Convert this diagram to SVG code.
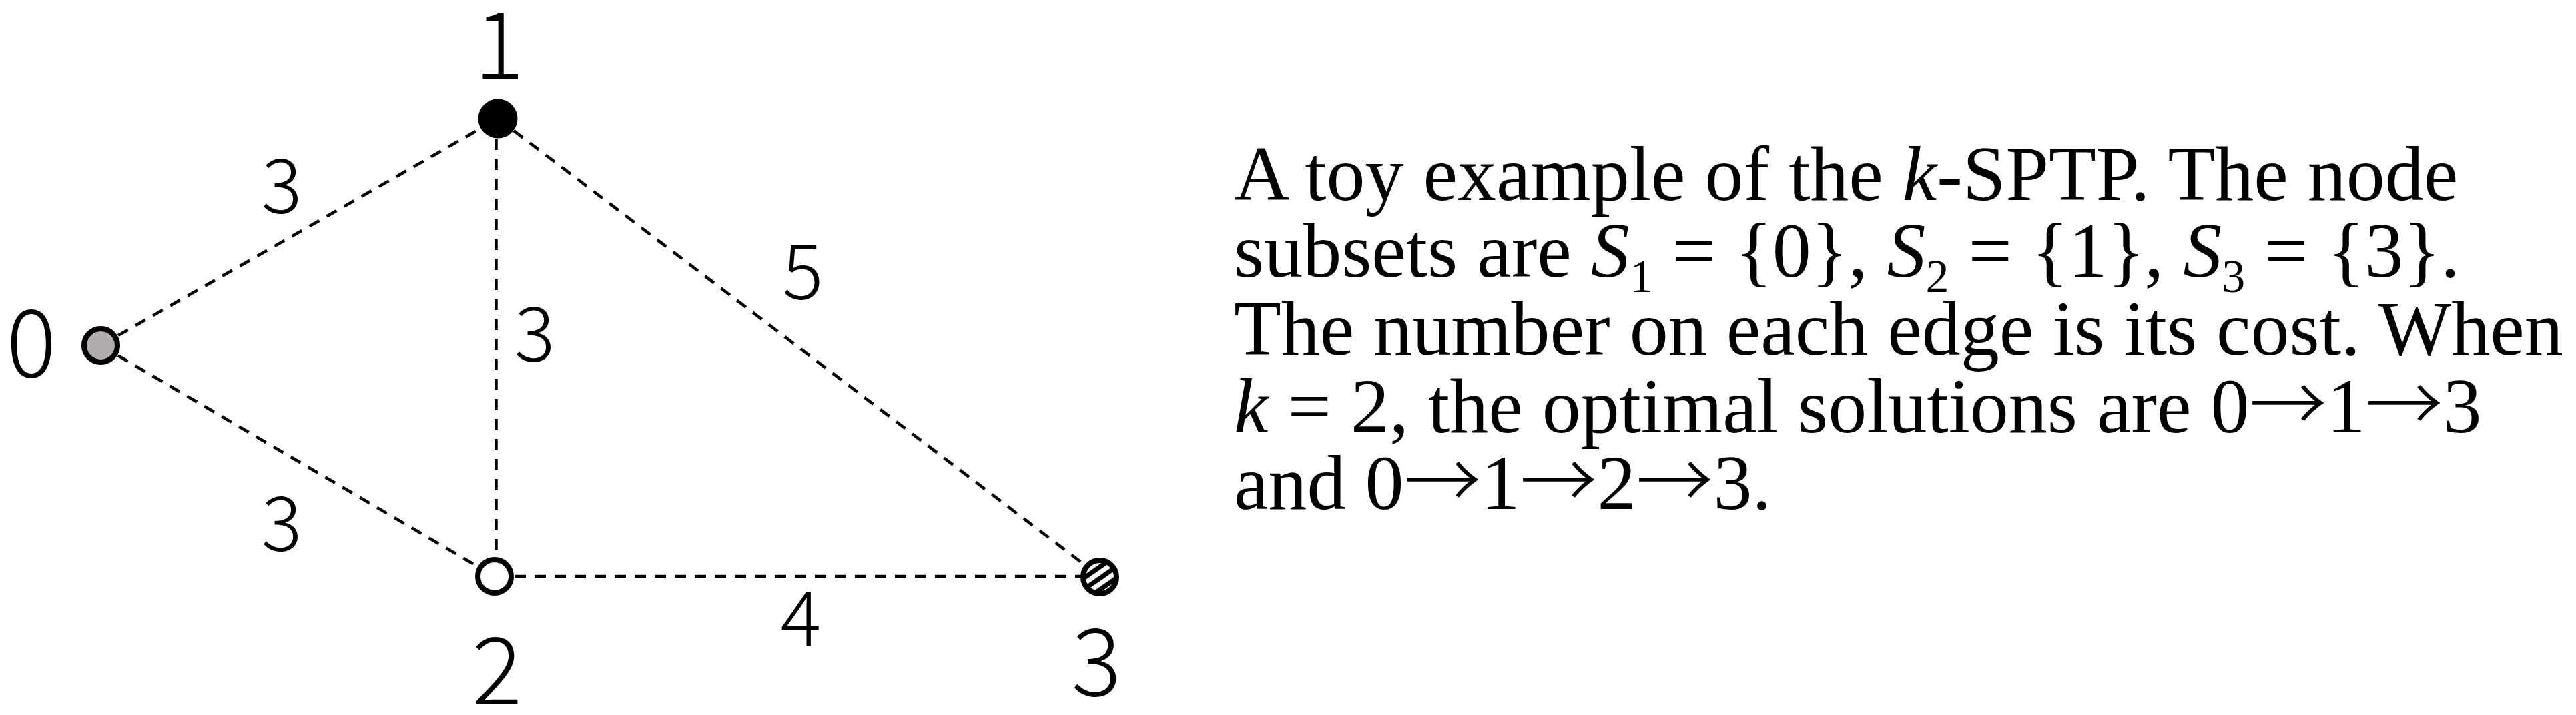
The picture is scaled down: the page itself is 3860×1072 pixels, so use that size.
<svg xmlns="http://www.w3.org/2000/svg" width="3860" height="1072" viewBox="0 0 3860 1072">
<defs>
<pattern id="stripes" patternUnits="userSpaceOnUse" width="14" height="14" patternTransform="rotate(-35)">
<rect x="0" y="0" width="14" height="14" fill="#ffffff"/>
<rect x="0" y="0" width="14" height="7" fill="#000000"/>
</pattern>
<style>
.edge{stroke:#000;stroke-width:4.5;stroke-dasharray:17 13;fill:none}
.node{stroke:#000;stroke-width:8}
.nlabel{font-family:"Noto Sans CJK SC","DejaVu Sans",sans-serif;font-weight:300;font-size:140px;fill:#000;text-anchor:middle}
.elabel{font-family:"Noto Sans CJK SC","DejaVu Sans",sans-serif;font-weight:300;font-size:114px;fill:#000;text-anchor:middle}
.caption{font-family:"Liberation Serif","Times New Roman",serif;font-size:116px;fill:#000}
.it{font-style:italic}
.sub{font-size:70px}
.arr{font-family:"Noto Sans CJK SC",sans-serif;font-weight:300}
</style>
</defs>
<rect width="3860" height="1072" fill="#ffffff"/>
<g id="connectors">
<line class="edge" x1="151" y1="518" x2="746" y2="178"/>
<line class="edge" x1="151" y1="518" x2="741" y2="864"/>
<line class="edge" x1="743.5" y1="178" x2="743.5" y2="864"/>
<line class="edge" x1="746" y1="178" x2="1648" y2="864"/>
<line class="edge" x1="741" y1="864" x2="1648" y2="864"/>
</g>
<g id="edge-labels">
<text class="elabel" x="422" y="320">3</text>
<text class="elabel" x="801" y="542">3</text>
<text class="elabel" x="422" y="826">3</text>
<text class="elabel" x="1203" y="449">5</text>
<text class="elabel" x="1200" y="968">4</text>
</g>
<g id="node0">
<circle class="node" cx="151" cy="518" r="25" fill="#b1adac"/>
<text class="nlabel" x="47" y="565">0</text>
</g>
<g id="node1">
<circle cx="746" cy="178" r="29.5" fill="#000000"/>
<text class="nlabel" x="748" y="118">1</text>
</g>
<g id="node2">
<circle class="node" cx="741" cy="864" r="25" fill="#ffffff"/>
<text class="nlabel" x="745" y="1056">2</text>
</g>
<g id="node3">
<circle class="node" cx="1648" cy="865" r="25" fill="url(#stripes)"/>
<text class="nlabel" x="1643" y="1043">3</text>
</g>
<g id="caption">
<text class="caption" x="1849" y="300">A toy example of the <tspan class="it">k</tspan>-SPTP. The node</text>
<text class="caption" x="1849" y="415">subsets are <tspan class="it">S</tspan><tspan class="sub" dy="23">1</tspan><tspan dy="-23"> = {0}, </tspan><tspan class="it">S</tspan><tspan class="sub" dy="23">2</tspan><tspan dy="-23"> = {1}, </tspan><tspan class="it">S</tspan><tspan class="sub" dy="23">3</tspan><tspan dy="-23"> = {3}.</tspan></text>
<text class="caption" x="1849" y="532">The number on each edge is its cost. When</text>
<text class="caption" x="1849" y="648"><tspan class="it">k</tspan> = 2, the optimal solutions are 0<tspan class="arr">→</tspan>1<tspan class="arr">→</tspan>3</text>
<text class="caption" x="1849" y="763">and 0<tspan class="arr">→</tspan>1<tspan class="arr">→</tspan>2<tspan class="arr">→</tspan>3.</text>
</g>
</svg>
